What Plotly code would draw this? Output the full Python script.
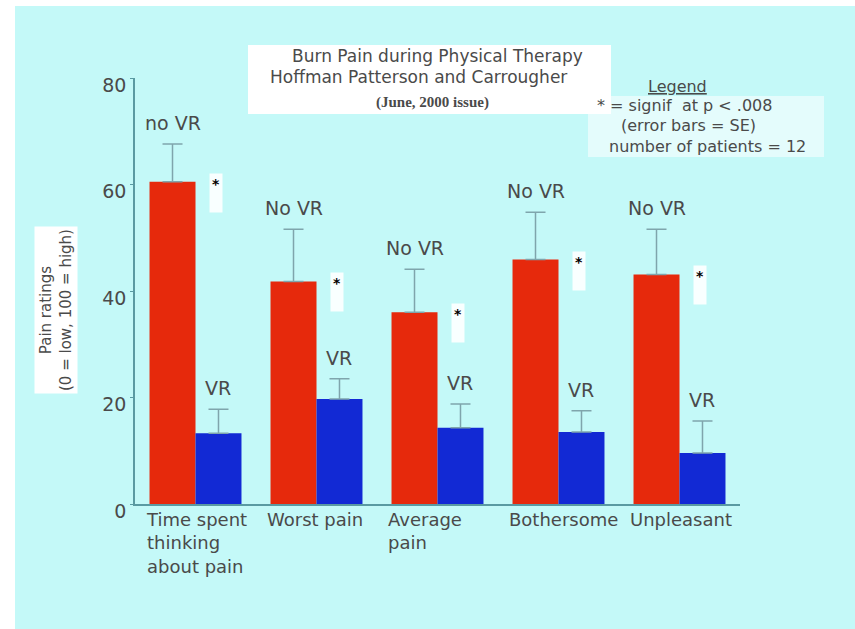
import plotly.graph_objects as go

# ---- data ----
categories = ["Time spent<br>thinking<br>about pain", "Worst pain", "Average<br>pain", "Bothersome", "Unpleasant"]
no_vr = [60.5, 41.8, 36.0, 45.9, 43.1]
no_vr_se = [7.1, 9.8, 8.1, 8.9, 8.5]
vr = [13.3, 19.7, 14.3, 13.5, 9.6]
vr_se = [4.5, 3.8, 4.5, 4.0, 6.0]
no_vr_labels = ["no VR", "No VR", "No VR", "No VR", "No VR"]
vr_labels = ["VR", "VR", "VR", "VR", "VR"]
y_ticks = [0, 20, 40, 60, 80]

RED = "#e6290c"
BLUE = "#1229d4"
ERR = "#7fa5ac"
AXIS = "#5a9aa2"
TXT = "#4a4a4a"
BG = "#c4f9f8"
FONT = "DejaVu Sans"

W, H = 855, 629
L, R, T, B = 135, 115, 78, 125
pw, ph = W - L - R, H - T - B


def px(x):
    return (x - L) / pw


def py(y):
    return (H - B - y) / ph


fig = go.Figure()
fig.add_trace(go.Bar(
    x=categories, y=no_vr, name="No VR", marker_color=RED, marker_line_width=0,
    error_y=dict(type="data", array=no_vr_se, arrayminus=[0] * len(no_vr_se), symmetric=False,
                 color=ERR, thickness=1.5, width=10),
))
fig.add_trace(go.Bar(
    x=categories, y=vr, name="VR", marker_color=BLUE, marker_line_width=0,
    error_y=dict(type="data", array=vr_se, arrayminus=[0] * len(vr_se), symmetric=False,
                 color=ERR, thickness=1.5, width=10),
))

shapes = [
    dict(type="rect", xref="paper", yref="paper", x0=px(15), x1=px(W + 5), y0=py(H + 5), y1=py(6),
         fillcolor=BG, line_width=0, layer="below"),
    dict(type="rect", xref="paper", yref="paper", x0=px(248), x1=px(611), y0=py(114), y1=py(45),
         fillcolor="white", line_width=0, layer="below"),
    # faint white patch behind the legend notes
    dict(type="rect", xref="paper", yref="paper", x0=px(588), x1=px(824), y0=py(157), y1=py(96),
         fillcolor="rgba(255,255,255,0.55)", line_width=0, layer="below"),
]

ann = []
off = 0.19
for i, c in enumerate(categories):
    ann.append(dict(x=i - 2 * off, y=0, xref="x", yref="y", text=c, showarrow=False,
                    xanchor="left", yanchor="top", align="left", xshift=-6, yshift=-3,
                    font=dict(family=FONT, size=18, color=TXT)))
    ann.append(dict(x=i - off, y=no_vr[i] + no_vr_se[i], xref="x", yref="y", text=no_vr_labels[i],
                    showarrow=False, xanchor="center", yanchor="bottom", yshift=8,
                    font=dict(family=FONT, size=19, color=TXT)))
    ann.append(dict(x=i + off, y=vr[i] + vr_se[i], xref="x", yref="y", text=vr_labels[i],
                    showarrow=False, xanchor="center", yanchor="bottom", yshift=8,
                    font=dict(family=FONT, size=19, color=TXT)))
    ann.append(dict(x=i + off - 0.02, y=no_vr[i], xref="x", yref="y", text="<b>*</b><br> ",
                    showarrow=False, xanchor="center", yanchor="top", yshift=9,
                    bgcolor="rgba(255,255,255,0.9)", borderpad=2,
                    font=dict(family=FONT, size=14, color="black")))

ann.append(dict(x=px(437), y=py(56), xref="paper", yref="paper", text="Burn Pain during Physical Therapy",
                showarrow=False, xanchor="center", yanchor="middle", font=dict(family=FONT, size=17, color=TXT)))
ann.append(dict(x=px(418), y=py(77), xref="paper", yref="paper", text="Hoffman Patterson and Carrougher",
                showarrow=False, xanchor="center", yanchor="middle", font=dict(family=FONT, size=17, color=TXT)))
ann.append(dict(x=px(432), y=py(102), xref="paper", yref="paper", text="<b>(June, 2000 issue)</b>",
                showarrow=False, xanchor="center", yanchor="middle",
                font=dict(family="Liberation Serif", size=15, color=TXT)))

leg = [("<u>Legend</u>", 677, 86), ("* = signif  at p < .008", 684, 106),
       ("(error bars = SE)", 688, 126), ("number of patients = 12", 707, 146)]
for t, x, y in leg:
    ann.append(dict(x=px(x), y=py(y), xref="paper", yref="paper", text=t, showarrow=False,
                    xanchor="center", yanchor="middle",
                    font=dict(family=FONT, size=16, color=TXT)))

ann.append(dict(x=px(56), y=py(310), xref="paper", yref="paper",
                text="Pain ratings<br>(0 = low, 100 = high)", textangle=-90, showarrow=False,
                xanchor="center", yanchor="middle",
                bgcolor="white", borderpad=2, font=dict(family=FONT, size=15, color=TXT)))

fig.update_layout(
    width=W, height=H, margin=dict(l=L, r=R, t=T, b=B),
    paper_bgcolor="white", plot_bgcolor="rgba(0,0,0,0)",
    barmode="group", bargap=0.24, bargroupgap=0,
    showlegend=False, shapes=shapes, annotations=ann,
    xaxis=dict(range=[-0.5, 4.5], showticklabels=False, ticks="", showgrid=False, zeroline=False,
               showline=True, linecolor=AXIS, linewidth=1.5),
    yaxis=dict(range=[0, 80], tickvals=y_ticks, ticks="outside", ticklen=3, tickcolor=AXIS,
               showgrid=False, zeroline=False, showline=True, linecolor=AXIS, linewidth=1.5,
               tickfont=dict(family=FONT, size=19, color=TXT), ticklabelshift=7,
               ticklabelstandoff=0),
    font=dict(family=FONT),
)

fig.write_html("out.html")
